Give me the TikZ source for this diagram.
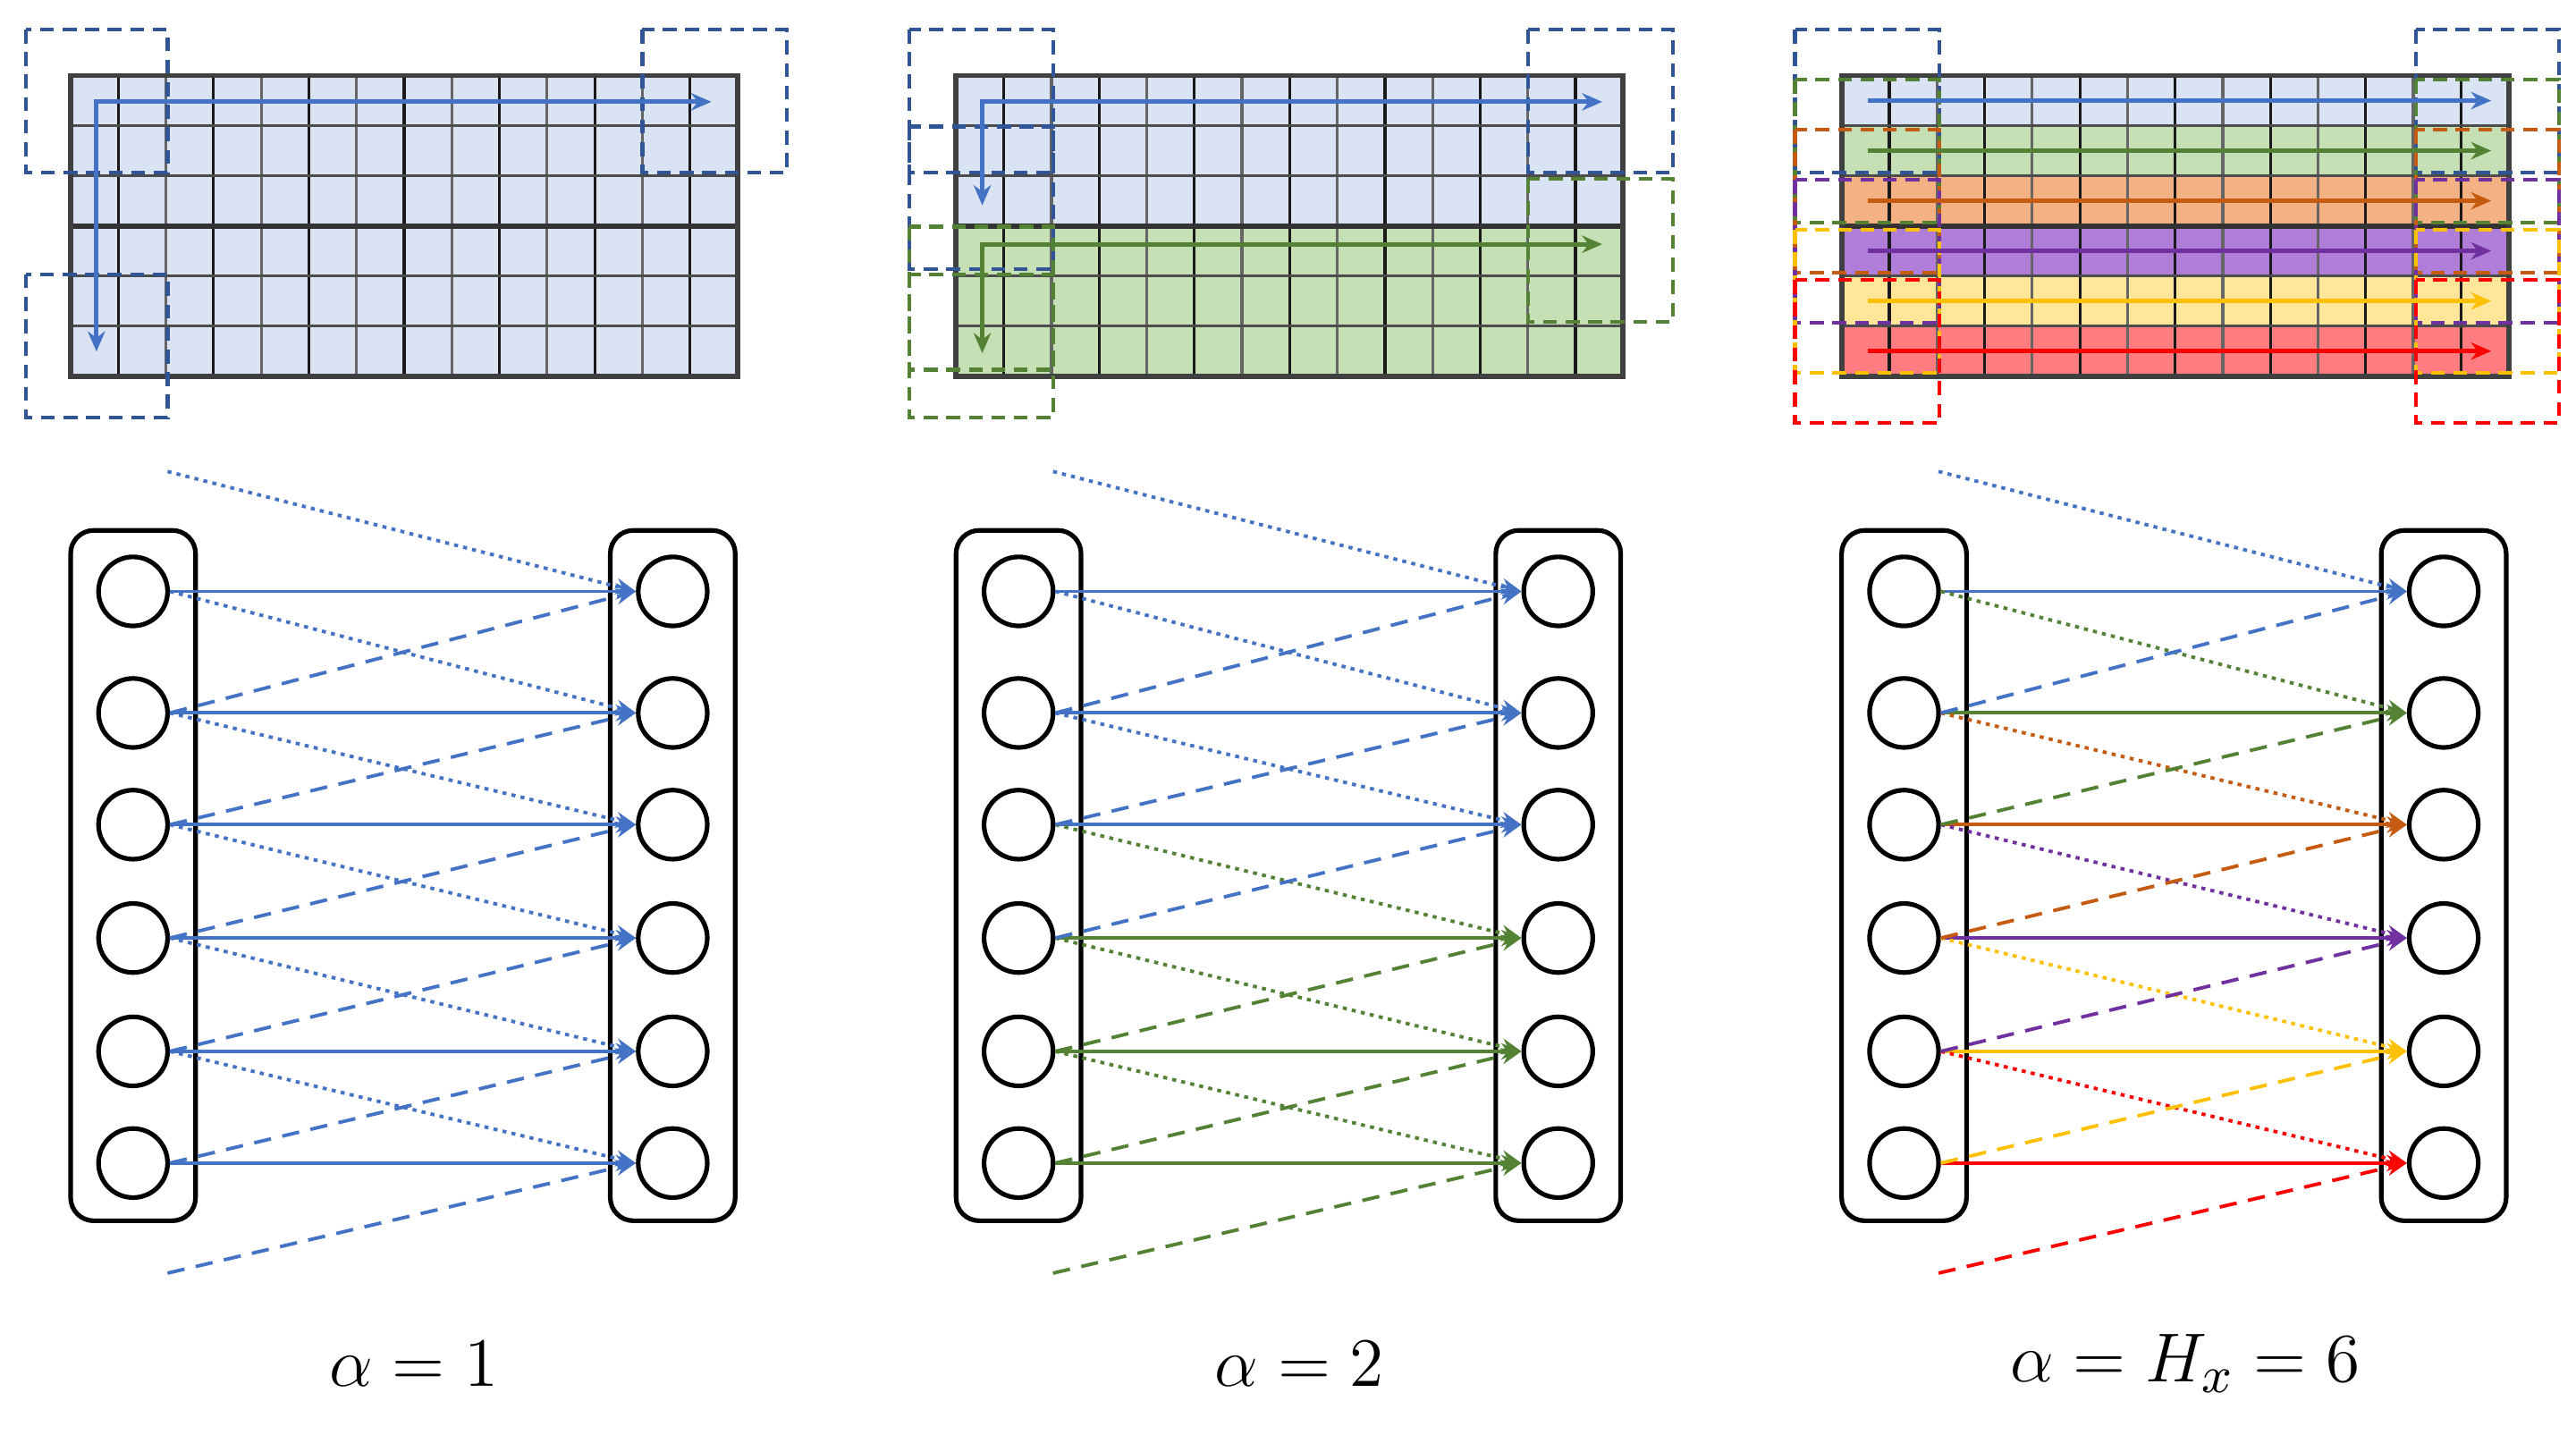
\documentclass[tikz,border=0pt]{standalone}
\usetikzlibrary{arrows.meta}
\definecolor{cb}{HTML}{4472C4}
\definecolor{cbd}{HTML}{2F5597}
\definecolor{cg}{HTML}{548235}
\definecolor{co}{HTML}{C55A11}
\definecolor{cp}{HTML}{7030A0}
\definecolor{cy}{HTML}{FFC000}
\definecolor{cr}{HTML}{FF0000}
\definecolor{fb}{HTML}{DAE3F3}
\definecolor{fg}{HTML}{C5E0B4}
\definecolor{fo}{HTML}{F4B183}
\definecolor{fp}{HTML}{B07DD8}
\definecolor{fy}{HTML}{FFE699}
\definecolor{fr}{HTML}{FF7C80}
\tikzset{
  win/.style={line width=0.65pt, dash pattern=on 2.4pt off 1.5pt},
  garr/.style={line width=0.75pt, -{Stealth[length=3.5pt,width=3pt]}},
  garr2/.style={line width=0.75pt, {Stealth[length=3.5pt,width=3pt]}-{Stealth[length=3.5pt,width=3pt]}},
  arr/.style={line width=0.6pt, -{Stealth[length=3.5pt,width=2.8pt]}},
  dotl/.style={arr, dash pattern=on 0.7pt off 0.9pt},
  dashl/.style={arr, dash pattern=on 3pt off 2pt},
  col/.style={draw, line width=0.8pt, rounded corners=4pt, minimum width=0.76cm, minimum height=4.2cm, inner sep=0pt},
  cir/.style={draw, circle, line width=0.8pt, minimum size=0.42cm, inner sep=0pt},
  lab/.style={font=\fontsize{13}{15}\selectfont},
}
\newcommand\gridpanel[2]{% #1 offset, #2 list of row fills
  \begin{scope}[xshift=#1*0.01cm]
    \foreach \c [count=\i from 0] in {#2} {\fill[\c] (43,46+30.5*\i) rectangle ++(406,30.5);}
    \foreach \j in {1,3,...,13} {\draw[black!90, line width=0.5pt] (43+29*\j,46) -- (43+29*\j,229);}
    \foreach \j in {2,4,...,12} {\draw[black!60, line width=0.5pt] (43+29*\j,46) -- (43+29*\j,229);}
    \foreach \j in {1,2,4,5} {\draw[black!70, line width=0.5pt] (43,46+30.5*\j) -- (449,46+30.5*\j);}
    \draw[black!80, line width=0.9pt] (43,137.5) -- (449,137.5);
    \draw[black!75, line width=0.9pt] (43,46) rectangle (449,229);
  \end{scope}}
\newcommand\gpanel[8]{% #1 offset, #2 prefix, #3-#8 colours of targets
  \begin{scope}[xshift=#1*0.01cm]
    \node[col] (#2L) at (81,533) {};
    \node[col] (#2R) at (409.5,533) {};
    \foreach \j/\y in {1/360,2/434,3/502,4/571,5/640,6/708} {
      \node[cir] (#2l\j) at (81,\y) {};
      \node[cir] (#2r\j) at (409.5,\y) {};
    }
    \coordinate (#2T) at (102,287);
    \coordinate (#2B) at (102,775);
    \foreach \j/\c in {1/#3,2/#4,3/#5,4/#6,5/#7,6/#8} {\draw[arr,\c] (#2l\j.east) -- (#2r\j.west);}
    \draw[dotl,#3] (#2T) -- (#2r1.west);
    \foreach \i/\j/\c in {1/2/#4,2/3/#5,3/4/#6,4/5/#7,5/6/#8} {\draw[dotl,\c] (#2l\i.east) -- (#2r\j.west);}
    \foreach \i/\j/\c in {2/1/#3,3/2/#4,4/3/#5,5/4/#6,6/5/#7} {\draw[dashl,\c] (#2l\i.east) -- (#2r\j.west);}
    \draw[dashl,#8] (#2B) -- (#2r6.west);
  \end{scope}}
\begin{document}
\begin{tikzpicture}[x=0.01cm,y=-0.01cm]
\useasboundingbox (0,0) rectangle (1568,873);
% ---------- grids ----------
\gridpanel{0}{fb,fb,fb,fb,fb,fb}
\gridpanel{539}{fb,fb,fb,fg,fg,fg}
\gridpanel{1078}{fb,fg,fo,fp,fy,fr}
% panel 1 windows and scan path
\draw[win,cbd] (16,18) rectangle (102,105);
\draw[win,cbd] (16,167) rectangle (102,254);
\draw[win,cbd] (391,18) rectangle (479,105);
\draw[garr2,cb] (58.7,214) -- (58.7,62) -- (433,62);
% panel 2
\begin{scope}[xshift=5.39cm]
\draw[win,cbd] (14,18) rectangle (102,105);
\draw[win,cbd] (14,77) rectangle (102,164);
\draw[win,cbd] (391,18) rectangle (479,105);
\draw[win,cg] (14,138) rectangle (102,225);
\draw[win,cg] (14,167) rectangle (102,254);
\draw[win,cg] (391,109) rectangle (479,196);
\draw[garr2,cb] (58.6,125) -- (58.6,62) -- (436,62);
\draw[garr2,cg] (58.6,215) -- (58.6,148.7) -- (436,148.7);
\end{scope}
% panel 3
\begin{scope}[xshift=10.78cm]
\foreach \c [count=\i from 0] in {cbd,cg,co,cp,cy,cr} {
  \draw[win,\c] (14,18+30.5*\i) rectangle (102,105+30.5*\i);
  \draw[win,\c] (392,18+30.5*\i) rectangle (479,105+30.5*\i);
}
\foreach \c [count=\i from 0] in {cb,cg,co,cp,cy,cr} {
  \draw[garr,\c] (58.5,61.25+30.5*\i) -- (437.8,61.25+30.5*\i);
}
\end{scope}
% ---------- graphs ----------
\gpanel{0}{a}{cb}{cb}{cb}{cb}{cb}{cb}
\gpanel{539}{b}{cb}{cb}{cb}{cg}{cg}{cg}
\gpanel{1078}{c}{cb}{cg}{co}{cp}{cy}{cr}
% ---------- labels ----------
\node[lab] (t1) at (252,830) {$\alpha = 1$};
\node[lab] (t2) at (791,830) {$\alpha = 2$};
\node[lab] (t3) at (1330,830) {$\alpha = H_x = 6$};
\end{tikzpicture}
\end{document}
